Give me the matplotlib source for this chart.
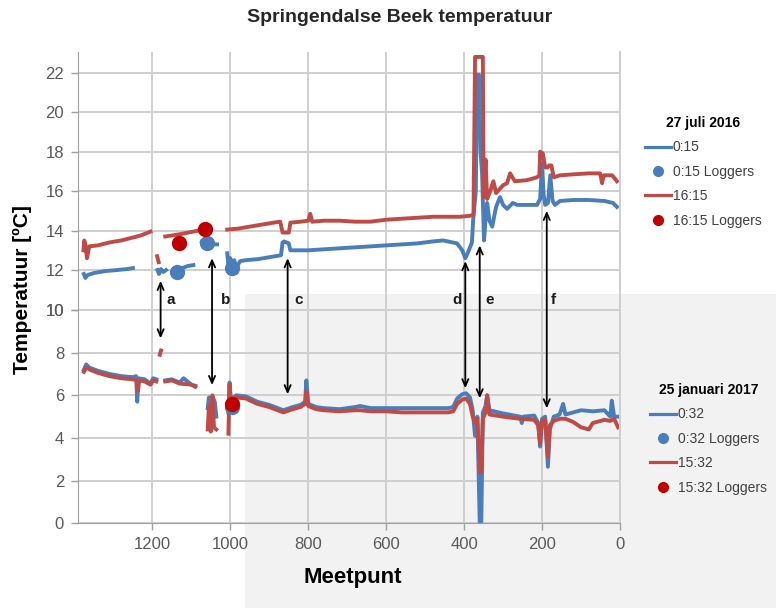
import numpy as np
import matplotlib.pyplot as plt
from matplotlib.lines import Line2D
from matplotlib.patches import Rectangle, ConnectionPatch

plt.rcParams['font.family'] = ['Liberation Sans', 'DejaVu Sans']

nan = np.nan

# 27 juli 2016 (bovenste grafiek)
zomer_015_x = [1376, 1372, 1366, 1350, 1320, 1290, 1265, 1250, 1245,
               1187, 1183, 1178, 1172, 1165, 1160,
               1146, 1130, 1110, 1095, 1090,
               1073, 1060, 1045, 1034, 1030,
               1008, 1004, 1000, 996, 990, 985, 975, 960, 930, 900, 870, 866, 862, 850, 846,
               830, 800, 760, 720, 680, 640, 600, 560, 520, 480, 454, 430, 418, 405, 397,
               390, 380, 377, 370, 367, 362, 358, 354, 349, 345, 341, 335, 328, 318, 308,
               300, 290, 275, 264, 240, 213, 205, 200, 196, 192, 185, 179, 173, 167, 154,
               120, 80, 40, 18, 8]
zomer_015_t = [11.8, 11.6, 11.75, 11.85, 11.95, 12.0, 12.05, 12.1, nan,
               12.0, 11.8, 12.05, 11.9, 12.0, nan,
               12.0, 12.05, 12.2, 12.25, nan,
               13.45, 13.35, 13.3, 13.3, nan,
               12.85, 12.0, 12.6, 11.95, 12.5, 12.1, 12.45, 12.5, 12.55, 12.65, 12.75, 13.4, 13.45, 13.35, 13.0,
               13.0, 13.0, 13.05, 13.1, 13.15, 13.2, 13.25, 13.3, 13.35, 13.45, 13.5, 13.4, 13.35, 13.0, 12.6,
               12.9, 13.4, 14.5, 16.0, 21.9, 21.9, 18.0, 16.9, 13.5, 14.6, 15.4, 14.5, 14.2, 15.2, 15.7,
               15.3, 15.1, 15.4, 15.3, 15.3, 15.3, 15.6, 17.4, 15.8, 15.3, 15.4, 16.8, 15.5, 15.3, 15.5,
               15.55, 15.55, 15.5, 15.4, 15.2]

zomer_1615_x = [1377, 1375, 1372, 1368, 1362, 1340, 1310, 1280, 1250, 1230, 1205, 1200,
                1188, 1184, 1182,
                1167, 1150, 1120, 1095, 1069, 1065,
                1008, 980, 950, 920, 890, 872, 866, 850, 846, 820, 800, 795, 790, 760, 720,
                680, 641, 600, 560, 520, 480, 440, 410, 385, 376, 372, 352, 350, 345, 341,
                333, 325, 318, 300, 290, 282, 270, 240, 213, 207, 205, 198, 192, 186, 182,
                176, 170, 154, 120, 80, 51, 46, 42, 20, 8]
zomer_1615_t = [13.0, 13.5, 13.3, 12.6, 13.2, 13.25, 13.4, 13.5, 13.65, 13.75, 13.95, nan,
                12.7, 12.4, nan,
                13.7, 13.75, 13.85, 13.95, 14.05, nan,
                14.05, 14.1, 14.2, 14.3, 14.4, 14.45, 13.9, 13.9, 14.4, 14.45, 14.5, 14.85, 14.45, 14.5, 14.5,
                14.45, 14.45, 14.55, 14.6, 14.65, 14.7, 14.7, 14.7, 14.75, 14.8, 22.8, 22.8, 15.7, 17.6, 15.6,
                16.0, 16.5, 15.9, 16.3, 16.4, 16.9, 16.5, 16.55, 16.7, 16.8, 18.0, 17.9, 17.2, 17.2, 17.3,
                17.3, 16.7, 16.8, 16.85, 16.9, 16.9, 16.4, 16.8, 16.8, 16.5]

zomer_log_015_x = [1137, 1060, 995]
zomer_log_015_t = [11.9, 13.35, 12.1]
zomer_log_1615_x = [1133, 1064]
zomer_log_1615_t = [13.35, 14.1]

# 25 januari 2017 (onderste grafiek)
winter_032_x = [1376, 1370, 1362, 1340, 1310, 1280, 1250, 1242, 1239, 1236, 1220, 1205, 1198, 1190, 1186,
                1167, 1150, 1130, 1120, 1100, 1090, 1086,
                1058, 1055, 1050, 1045, 1040, 1036, 1030,
                1005, 1002, 998, 992, 985, 960, 931, 900, 864, 840, 820, 808, 805, 800, 780,
                760, 720, 680, 667, 640, 600, 560, 520, 480, 440, 428, 418, 405, 395, 385,
                378, 372, 366, 360, 356, 352, 345, 341, 335, 300, 256, 252, 248, 220, 210,
                205, 200, 192, 185, 180, 170, 155, 146, 140, 120, 100, 70, 40, 25, 21, 15, 5]
winter_032_t = [7.2, 7.45, 7.3, 7.15, 7.0, 6.9, 6.85, 6.9, 5.7, 6.8, 6.75, 6.55, 6.8, 6.75, nan,
                6.7, 6.75, 6.6, 6.8, 6.5, 6.45, nan,
                5.4, 5.9, 4.5, 5.9, 5.7, 5.0, nan,
                5.2, 6.6, 5.5, 5.9, 6.0, 5.95, 5.7, 5.55, 5.3, 5.45, 5.55, 5.7, 6.7, 5.6, 5.45,
                5.4, 5.35, 5.45, 5.5, 5.4, 5.4, 5.4, 5.4, 5.4, 5.4, 5.45, 5.85, 6.05, 6.1, 5.9,
                5.3, 4.1, 5.0, 0.0, 0.0, 5.2, 5.5, 6.0, 5.3, 5.15, 5.0, 4.7, 5.0, 5.05, 4.7,
                3.6, 4.9, 5.0, 2.65, 4.4, 5.0, 5.1, 5.6, 5.1, 5.2, 5.3, 5.25, 5.3, 5.0, 5.75, 5.0, 5.0]

winter_1532_x = [1376, 1370, 1360, 1340, 1310, 1280, 1250, 1240, 1237, 1234, 1220, 1205, 1198, 1190, 1186,
                 1181, 1178, 1175,
                 1167, 1150, 1130, 1100, 1090, 1086,
                 1058, 1055, 1050, 1046, 1042, 1036, 1030,
                 1005, 1002, 998, 992, 985, 960, 931, 900, 864, 840, 820, 808, 805, 800, 780,
                 760, 720, 680, 667, 640, 600, 560, 520, 480, 440, 428, 418, 405, 395, 385,
                 378, 372, 366, 360, 356, 352, 345, 341, 335, 300, 256, 220, 210,
                 205, 200, 192, 185, 180, 170, 155, 140, 120, 100, 80, 70, 40, 25, 15, 5]
winter_1532_t = [7.1, 7.3, 7.2, 7.05, 6.9, 6.8, 6.75, 6.7, 6.2, 6.7, 6.65, 6.5, 6.7, 6.65, nan,
                 7.9, 8.1, nan,
                 6.65, 6.7, 6.55, 6.5, 6.4, nan,
                 4.4, 5.5, 4.3, 6.0, 4.5, 4.4, nan,
                 4.2, 6.5, 5.4, 5.85, 5.9, 5.85, 5.6, 5.45, 5.2, 5.35, 5.45, 5.6, 6.2, 5.5, 5.35,
                 5.3, 5.25, 5.3, 5.3, 5.25, 5.25, 5.2, 5.2, 5.2, 5.2, 5.25, 5.6, 5.8, 5.85, 5.6,
                 5.0, 4.7, 4.9, 2.4, 2.4, 4.9, 5.2, 6.0, 5.1, 5.0, 4.9, 4.85, 4.6,
                 3.75, 4.8, 4.85, 3.1, 4.6, 4.8, 4.9, 4.9, 4.75, 4.5, 4.4, 4.7, 4.85, 4.8, 4.9, 4.5]

winter_log_032_x = [995]
winter_log_032_t = [5.45]
winter_log_1532_x = [995]
winter_log_1532_t = [5.6]

# pijlen: letter, meetpunt, boven (zomer), onder (winter), tekstpositie
pijl_letters = ['a', 'b', 'c', 'd', 'e', 'f']
pijl_x = [1179, 1047, 853, 397, 360, 188]
pijl_boven = [11.45, 12.6, 12.6, 12.45, 13.25, 15.0]
pijl_onder = [8.67, 6.48, 6.05, 6.33, 5.86, 5.39]
letter_x = [1152, 1013, 824, 419, 335, 171]

blauw = '#4a7ebb'
rood = '#be4b48'
donkerrood = '#c00000'
rasterkleur = '#cfcfcf'
askleur = '#a0a0a0'
lijndikte = 2.8

fig = plt.figure(figsize=(7.76, 6.08), dpi=100)
fig.add_artist(Rectangle((245 / 776, 0), 1, 1 - 294 / 608, transform=fig.transFigure,
                         facecolor='#f2f2f2', edgecolor='none', zorder=-1))

ax_s = fig.add_axes([78 / 776, 1 - 309.5 / 608, 542 / 776, 257.5 / 608])
ax_w = fig.add_axes([78 / 776, 1 - 523.3 / 608, 542 / 776, 213.3 / 608])

for ax in (ax_s, ax_w):
    ax.set_facecolor('none')
    ax.set_xlim(1391, 0)
    ax.set_xticks(range(0, 1201, 200))
    ax.grid(True, color=rasterkleur, lw=1.4)
    ax.set_axisbelow(True)
    ax.spines['top'].set_visible(False)
    ax.spines['right'].set_color(rasterkleur)
    ax.spines['right'].set_linewidth(1.4)
    ax.spines['left'].set_color(askleur)
    ax.spines['bottom'].set_color(askleur)
    ax.tick_params(axis='both', direction='out', length=5, width=1, color=askleur,
                   labelcolor='#595959', labelsize=12, pad=5)

ax_s.set_ylim(10, 23.05)
ax_s.set_yticks(range(10, 23, 2))
ax_s.spines['bottom'].set_visible(False)
ax_s.tick_params(axis='x', length=0, labelbottom=False)

ax_w.set_ylim(0, 10)
ax_w.set_yticks(range(0, 11, 2))

ax_s.plot(zomer_015_x, zomer_015_t, color=blauw, lw=lijndikte)
ax_s.plot(zomer_1615_x, zomer_1615_t, color=rood, lw=lijndikte)
ax_s.plot(zomer_log_015_x, zomer_log_015_t, 'o', color=blauw, ms=10)
ax_s.plot(zomer_log_1615_x, zomer_log_1615_t, 'o', color=donkerrood, ms=10)

ax_w.plot(winter_032_x, winter_032_t, color=blauw, lw=lijndikte)
ax_w.plot(winter_1532_x, winter_1532_t, color=rood, lw=lijndikte)
ax_w.plot(winter_log_032_x, winter_log_032_t, 'o', color=blauw, ms=10)
ax_w.plot(winter_log_1532_x, winter_log_1532_t, 'o', color=donkerrood, ms=10)

for letter, x, boven, onder, lx in zip(pijl_letters, pijl_x, pijl_boven, pijl_onder, letter_x):
    pijl = ConnectionPatch(xyA=(x, boven), coordsA=ax_s.transData,
                           xyB=(x, onder), coordsB=ax_w.transData,
                           arrowstyle='<->,head_length=0.5,head_width=0.22',
                           color='black', lw=1.3, zorder=10)
    fig.add_artist(pijl)
    ax_s.text(lx, 10.48, letter, ha='center', va='center', fontsize=11,
              fontweight='bold', color='#1a1a1a', clip_on=False, zorder=10)

def maak_legenda(ax, titel, tijd1, tijd2, anker):
    handles = [Line2D([], [], color=blauw, lw=2.3),
               Line2D([], [], color=blauw, marker='o', ls='none', ms=7),
               Line2D([], [], color=rood, lw=2.3),
               Line2D([], [], color=donkerrood, marker='o', ls='none', ms=7)]
    labels = [tijd1, tijd1 + ' Loggers', tijd2, tijd2 + ' Loggers']
    leg = ax.legend(handles, labels, title=titel, loc='upper left',
                    bbox_to_anchor=anker, bbox_transform=fig.transFigure,
                    frameon=False, fontsize=10, borderpad=0, borderaxespad=0,
                    handlelength=1.9, handletextpad=0.1, labelspacing=0.75,
                    title_fontproperties={'weight': 'bold', 'size': 10})
    for t in leg.get_texts():
        t.set_color('#404040')
    return leg

maak_legenda(ax_s, '27 juli 2016', '0:15', '16:15', (645 / 776, 1 - 116 / 608))
maak_legenda(ax_w, '25 januari 2017', '0:32', '15:32', (650 / 776, 1 - 383 / 608))

fig.text(0.515, 1 - 18 / 608, 'Springendalse Beek temperatuur', ha='center', va='center',
         fontsize=14, fontweight='bold', color='#262626')
fig.text(22 / 776, 1 - 290 / 608, 'Temperatuur [ºC]', rotation=90, ha='center', va='center',
         fontsize=15, fontweight='bold', color='black')
fig.text(353 / 776, 1 - 578 / 608, 'Meetpunt', ha='center', va='center',
         fontsize=16, fontweight='bold', color='black')

fig.savefig('out.png', dpi=100)
